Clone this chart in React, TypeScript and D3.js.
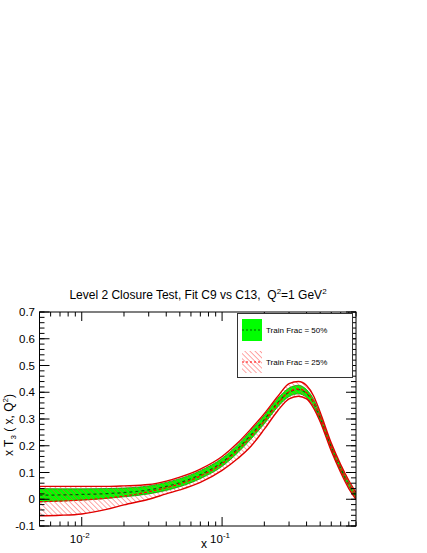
import React from "react";
import * as d3 from "d3";

const xs = [0.005, 0.007, 0.01, 0.015, 0.02, 0.03, 0.04, 0.05, 0.07, 0.1, 0.13, 0.16, 0.2, 0.25, 0.3, 0.35, 0.4, 0.45, 0.5, 0.6, 0.7, 0.8, 0.9];
const green50Central = [0.015, 0.016, 0.018, 0.021, 0.025, 0.035, 0.048, 0.062, 0.092, 0.138, 0.19, 0.24, 0.298, 0.362, 0.4, 0.41, 0.395, 0.36, 0.305, 0.195, 0.115, 0.055, 0.012];
const green50Lower = [-0.01, -0.007, -0.003, 0.003, 0.009, 0.02, 0.033, 0.047, 0.077, 0.123, 0.175, 0.224, 0.282, 0.346, 0.384, 0.394, 0.38, 0.347, 0.293, 0.185, 0.106, 0.047, 0.004];
const green50Upper = [0.04, 0.039, 0.039, 0.04, 0.042, 0.05, 0.063, 0.077, 0.107, 0.153, 0.205, 0.256, 0.314, 0.378, 0.416, 0.426, 0.41, 0.373, 0.317, 0.205, 0.124, 0.063, 0.02];
const red25Central = [-0.009, -0.007, -0.003, 0.004, 0.012, 0.028, 0.043, 0.057, 0.087, 0.133, 0.185, 0.233, 0.292, 0.358, 0.402, 0.412, 0.398, 0.362, 0.307, 0.195, 0.115, 0.055, 0.012];
const red25Lower = [-0.062, -0.06, -0.055, -0.038, -0.021, 0.0, 0.02, 0.035, 0.063, 0.108, 0.153, 0.197, 0.262, 0.332, 0.375, 0.385, 0.375, 0.34, 0.29, 0.18, 0.1, 0.04, 0.0];
const red25Upper = [0.048, 0.048, 0.048, 0.048, 0.05, 0.055, 0.068, 0.083, 0.113, 0.16, 0.212, 0.262, 0.32, 0.385, 0.432, 0.44, 0.425, 0.385, 0.325, 0.21, 0.13, 0.07, 0.025];

const yMajorTicks = [-0.1, 0, 0.1, 0.2, 0.3, 0.4, 0.5, 0.6, 0.7];
const yTickLabels = ["-0.1", "0", "0.1", "0.2", "0.3", "0.4", "0.5", "0.6", "0.7"];
const xMajorTicks = [0.01, 0.1];
const xTickExponents = ["-2", "-1"];
const xMinorTicks = [0.006, 0.007, 0.008, 0.009, 0.02, 0.03, 0.04, 0.05, 0.06, 0.07, 0.08, 0.09, 0.2, 0.3, 0.4, 0.5, 0.6, 0.7, 0.8, 0.9];
const legendLabels = ["Train Frac = 50%", "Train Frac = 25%"];

const W = 427, H = 553;
const L = 39.5, R = 356, T = 312, B = 526;
const FONT = "'Liberation Sans', Arial, Helvetica, sans-serif";

export default function App() {
  const x = d3.scaleLog().domain([0.005, 0.9]).range([L, R]);
  const y = d3.scaleLinear().domain([-0.1, 0.7]).range([B, T]);
  const idx = xs.map((_, i) => i);
  const curve = d3.curveMonotoneX;

  const area = (lo: number[], hi: number[]) =>
    d3.area<number>().x(i => x(xs[i])).y0(i => y(lo[i])).y1(i => y(hi[i])).curve(curve)(idx) || "";
  const line = (v: number[]) =>
    d3.line<number>().x(i => x(xs[i])).y(i => y(v[i])).curve(curve)(idx) || "";

  const yMinor = d3.range(-0.1, 0.7001, 0.02);

  return (
    <svg width={W} height={H} style={{ position: "absolute", left: 0, top: 0, background: "#fff" }} fontFamily={FONT}>
      <defs>
        <clipPath id="plotClip">
          <rect x={L} y={T} width={R - L} height={B - T} />
        </clipPath>
        <pattern id="hatch" patternUnits="userSpaceOnUse" width={3.6} height={3.6} patternTransform="rotate(-45)">
          <line x1={0} y1={0} x2={0} y2={3.6} stroke="#ff3a3a" strokeWidth={0.9} />
        </pattern>
      </defs>
      <rect x={0} y={0} width={W} height={H} fill="#fff" />

      <text x={198} y={299} fontSize={12} textAnchor="middle" fill="#000">
        Level 2 Closure Test, Fit C9 vs C13,{"\u00a0\u00a0"}Q
        <tspan dy={-5} fontSize={8}>2</tspan>
        <tspan dy={5}>=1 GeV</tspan>
        <tspan dy={-5} fontSize={8}>2</tspan>
      </text>

      <g clipPath="url(#plotClip)">
        <path d={area(green50Lower, green50Upper)} fill="#00ff00" stroke="#00a000" strokeWidth={0.8} />
        <path d={area(red25Lower, red25Upper)} fill="url(#hatch)" stroke="none" />
        <path d={line(green50Central)} fill="none" stroke="#006400" strokeWidth={1.2} strokeDasharray="3,3" />
        <path d={line(red25Lower)} fill="none" stroke="#e00000" strokeWidth={1.4} />
        <path d={line(red25Upper)} fill="none" stroke="#e00000" strokeWidth={1.4} />
        <path d={line(red25Central)} fill="none" stroke="#ff0000" strokeWidth={1.2} strokeDasharray="3,2" />
      </g>

      {/* frame */}
      <rect x={L} y={T} width={R - L} height={B - T} fill="none" stroke="#000" strokeWidth={1} />

      {/* y ticks */}
      {yMinor.map((v, i) => (
        <g key={"ym" + i}>
          <line x1={L} x2={L + 5} y1={y(v)} y2={y(v)} stroke="#000" />
          <line x1={R} x2={R - 5} y1={y(v)} y2={y(v)} stroke="#000" />
        </g>
      ))}
      {yMajorTicks.map((v, i) => (
        <g key={"yM" + i}>
          <line x1={L} x2={L + 10} y1={y(v)} y2={y(v)} stroke="#000" />
          <line x1={R} x2={R - 10} y1={y(v)} y2={y(v)} stroke="#000" />
          <text x={35} y={y(v) + 4} fontSize={11.5} textAnchor="end" fill="#000">{yTickLabels[i]}</text>
        </g>
      ))}

      {/* x ticks */}
      {xMinorTicks.map((v, i) => (
        <g key={"xm" + i}>
          <line x1={x(v)} x2={x(v)} y1={B} y2={B - 4.5} stroke="#000" />
          <line x1={x(v)} x2={x(v)} y1={T} y2={T + 4.5} stroke="#000" />
        </g>
      ))}
      {xMajorTicks.map((v, i) => (
        <g key={"xM" + i}>
          <line x1={x(v)} x2={x(v)} y1={B} y2={B - 9} stroke="#000" />
          <line x1={x(v)} x2={x(v)} y1={T} y2={T + 9} stroke="#000" />
          <text x={x(v) - 2} y={543} fontSize={11.5} textAnchor="middle" fill="#000">
            10<tspan dy={-5} fontSize={8}>{xTickExponents[i]}</tspan>
          </text>
        </g>
      ))}

      {/* axis titles */}
      <text x={204} y={548} fontSize={12} textAnchor="middle" fill="#000">x</text>
      <text transform={`translate(13,${(T + B) / 2 + 6}) rotate(-90)`} fontSize={12} textAnchor="middle" fill="#000">
        x T<tspan dy={3} fontSize={8}>3</tspan>
        <tspan dy={-3}> ( x, Q</tspan>
        <tspan dy={-5} fontSize={8}>2</tspan>
        <tspan dy={5}>)</tspan>
      </text>

      {/* legend */}
      <rect x={237.5} y={313.5} width={115} height={64} fill="#fff" stroke="#333" strokeWidth={1} />
      <rect x={242} y={319} width={20} height={22} fill="#00ff00" />
      <line x1={242} x2={262} y1={330} y2={330} stroke="#006400" strokeWidth={1.2} strokeDasharray="2,2" />
      <text x={266} y={333} fontSize={8} fill="#000">{legendLabels[0]}</text>
      <rect x={242} y={351} width={20} height={22} fill="url(#hatch)" />
      <line x1={242} x2={262} y1={362} y2={362} stroke="#ff0000" strokeWidth={1.2} strokeDasharray="2,2" />
      <text x={266} y={365} fontSize={8} fill="#000">{legendLabels[1]}</text>
    </svg>
  );
}
